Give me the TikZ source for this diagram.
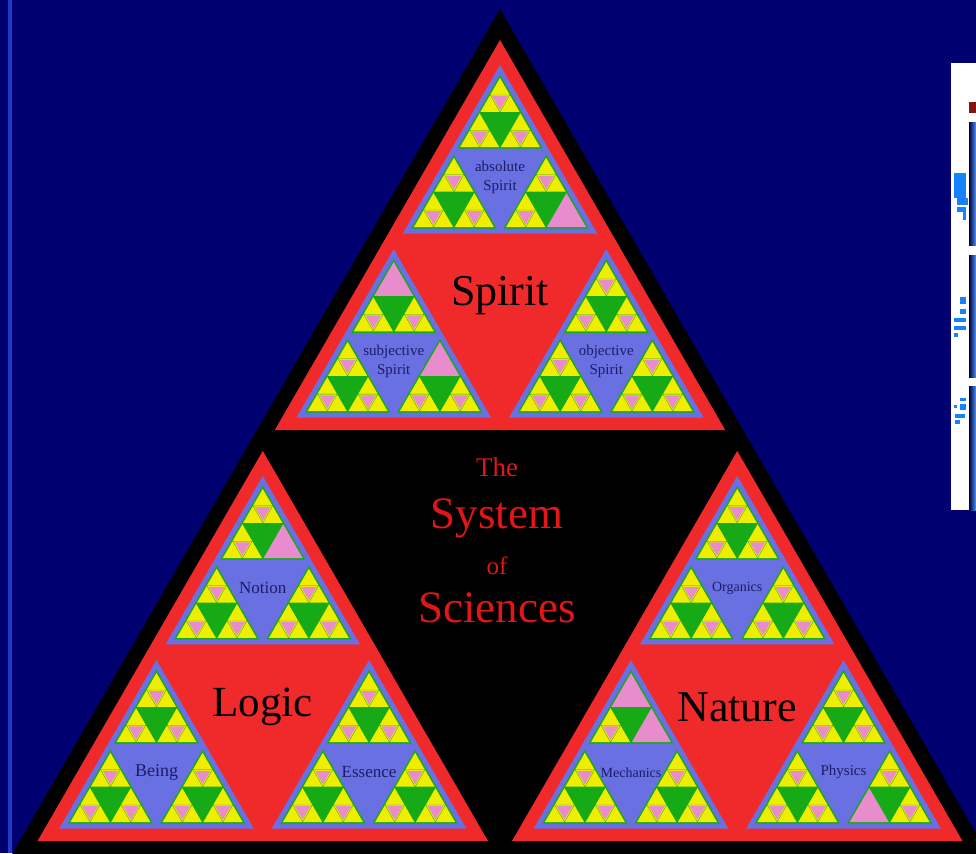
\documentclass[tikz,border=0pt]{standalone}
\usepackage{fontspec}
\setmainfont{Liberation Serif}
\definecolor{navybg}{RGB}{0,0,112}
\definecolor{stripeblue}{RGB}{30,60,200}
\definecolor{trired}{RGB}{240,42,42}
\definecolor{triblue}{RGB}{105,112,225}
\definecolor{trigreen}{RGB}{22,170,22}
\definecolor{triyellow}{RGB}{240,238,0}
\definecolor{tripink}{RGB}{232,140,205}
\definecolor{labelnavy}{RGB}{28,28,105}
\definecolor{titlered}{RGB}{225,22,22}
\definecolor{panelred}{RGB}{130,20,20}
\definecolor{glyphblue}{RGB}{20,130,255}

% per level: fill colour, border, child scale
\def\tricol#1{\ifcase#1 black\or trired\or triblue\or trigreen\or triyellow\fi}
\def\triborder#1{\ifcase#1 15.5\or 12.5\or 5\or 1.5\or 0\fi}
\def\triscale#1{\ifcase#1 0.487\or 0.478\or 0.48\or 0.49\or 0\fi}

\newcommand\pinkat[1]{\expandafter\gdef\csname pink@#1\endcsname{}}
\newcommand\labelat[3]{\expandafter\def\csname lbl@#1\endcsname{#2}%
  \expandafter\def\csname lfs@#1\endcsname{#3}}

% level, path, apex x, apex y, height
\newcommand\sierp[5]{%
  \begingroup
  \pgfmathsetmacro\hw{#5*0.57735}%
  \ifcsname pink@#2\endcsname
    \fill[tripink] (#3,#4) -- ({#3-\hw},{#4+#5}) -- ({#3+\hw},{#4+#5}) -- cycle;
  \else
    \edef\fc{\tricol{#1}}%
    \fill[fill=\fc] (#3,#4) -- ({#3-\hw},{#4+#5}) -- ({#3+\hw},{#4+#5}) -- cycle;
    \ifnum#1<4
      \pgfmathsetmacro\bb{\triborder{#1}}%
      \pgfmathsetmacro\iy{#4+2*\bb}%
      \pgfmathsetmacro\hi{#5-3*\bb}%
      \pgfmathsetmacro\hc{\hi*\triscale{#1}}%
      \pgfmathsetmacro\dx{(\hi-\hc)*0.57735}%
      \pgfmathsetmacro\cy{\iy+\hi-\hc}%
      \pgfmathsetmacro\lx{#3-\dx}%
      \pgfmathsetmacro\rx{#3+\dx}%
      \pgfmathsetmacro\my{\iy+2*\hi/3}%
      \pgfmathtruncatemacro\nl{#1+1}%
      \ifcsname lbl@#2\endcsname
        \node[lbl#1, font=\csname lfs@#2\endcsname] (n#2) at (#3,\my) {\csname lbl@#2\endcsname};
      \fi
      \edef\next{\noexpand\sierp{\nl}{#2t}{#3}{\iy}{\hc}%
        \noexpand\sierp{\nl}{#2l}{\lx}{\cy}{\hc}%
        \noexpand\sierp{\nl}{#2r}{\rx}{\cy}{\hc}}%
      \next
    \else
      % pink centre of a yellow triangle
      \pgfmathsetmacro\gy{#4+2*#5/3}%
      \draw[trigreen, line width=0.3pt] ({#3-\hw/2},{#4+#5/2}) -- ({#3+\hw/2},{#4+#5/2}) -- (#3,{#4+#5}) -- cycle;
      \fill[tripink] ({#3-0.8*\hw/2},{\gy-0.8*#5/6}) -- ({#3+0.8*\hw/2},{\gy-0.8*#5/6}) -- (#3,{\gy+0.8*#5/3}) -- cycle;
    \fi
  \fi
  \endgroup}

\foreach \p in {tltt,tlrt,ttrr,lttr,rltt,rltr,rrrl} {\expandafter\pinkat\expandafter{\p}}

\labelat{t}{Spirit}{\fontsize{44}{48}\selectfont}
\labelat{l}{Logic}{\fontsize{43}{48}\selectfont}
\labelat{r}{Nature}{\fontsize{44}{48}\selectfont}
\labelat{tt}{absolute\\Spirit}{\fontsize{15}{19}\selectfont}
\labelat{tl}{subjective\\Spirit}{\fontsize{15}{19}\selectfont}
\labelat{tr}{objective\\Spirit}{\fontsize{15}{19}\selectfont}
\labelat{lt}{Notion}{\fontsize{17}{19}\selectfont}
\labelat{ll}{Being}{\fontsize{18}{19}\selectfont}
\labelat{lr}{Essence}{\fontsize{17}{19}\selectfont}
\labelat{rt}{Organics}{\fontsize{14}{19}\selectfont}
\labelat{rl}{Mechanics}{\fontsize{14}{19}\selectfont}
\labelat{rr}{Physics}{\fontsize{15}{19}\selectfont}

\tikzset{
  lbl1/.style={text=black, align=center, inner sep=0pt, yshift=4pt},
  lbl2/.style={text=labelnavy, align=center, inner sep=0pt},
  title/.style={text=titlered, inner sep=0pt}
}

\begin{document}
\begin{tikzpicture}[x=1pt, y=-1pt]
\fill[navybg] (0,0) rectangle (976,853);
\useasboundingbox (0,0) rectangle (976,853);
\fill[stripeblue] (8,0) rectangle (12,853);

\sierp{0}{}{500}{9}{847.5}

% centre of the whole triangle
\node[title, font=\fontsize{27}{30}\selectfont] (the) at (497,467) {The};
\node[title, font=\fontsize{45}{48}\selectfont] (system) at (497,518) {System};
\node[title, font=\fontsize{25}{30}\selectfont] (of) at (497,566) {of};
\node[title, font=\fontsize{45}{48}\selectfont] (sciences) at (497,608) {Sciences};

% cut-off window at the right edge
\fill[white] (951,63) rectangle (976,510);
\fill[panelred] (969,102) rectangle (976,113);
\foreach \ya/\yb in {123/245,255/377,386/510}
  \shade[left color=black!80!blue, right color=cyan!40!blue!70] (969,\ya) rectangle (976,\yb);
\foreach \xa/\ya/\xb/\yb in {954/173/966/198, 957/198/968/205, 957/207/966/212, 963/212/966/220,
  960/297/966/304, 960/309/966/314, 954/318/966/322, 954/326/966/330, 954/333/958/337,
  960/398/966/401, 960/404/966/410, 954/405/957/408, 955/414/965/418, 955/420/960/424}
  \fill[glyphblue] (\xa,\ya) rectangle (\xb,\yb);
\end{tikzpicture}
\end{document}
